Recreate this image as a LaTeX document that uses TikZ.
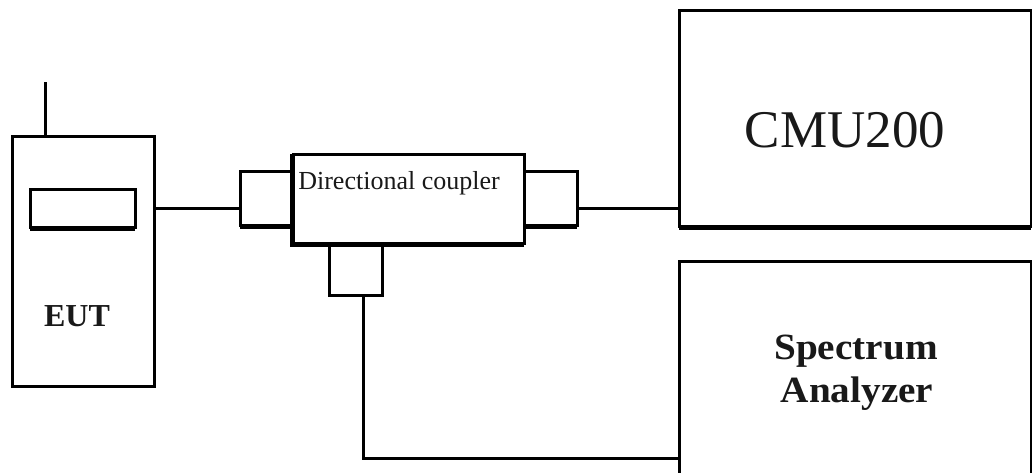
\documentclass[tikz,border=0pt]{standalone}
\usepackage{fontspec}
\setmainfont{Liberation Serif}
\begin{document}
\begin{tikzpicture}[x=1pt,y=-1pt,
  box/.style={draw=black, line width=3pt, fill=white, inner sep=0pt, outer sep=0pt},
  wire/.style={draw=black, line width=3pt},
  heavy/.style={draw=black, line width=5pt},
  lbl/.style={inner sep=0pt, outer sep=0pt, text=black!90}]
\useasboundingbox (0,0) rectangle (1032,472);
\clip (0,0) rectangle (1032,472);
% EUT
\node[box, minimum width=142pt, minimum height=250pt] (eut) at (83,261) {};
\node[box, minimum width=105pt, minimum height=38pt] (screen) at (82.5,208) {};
\draw[heavy] ([yshift=-1pt]screen.south west) -- ([yshift=-1pt]screen.south east);
\node[lbl, font=\fontsize{32}{38}\selectfont\bfseries] (eutlbl) at (77,316) {EUT};
\coordinate (ant) at (45,82);
\draw[wire] (ant) -- (ant |- eut.north);
% coupler
\node[box, minimum width=53pt, minimum height=54pt] (portL) at (266.5,198) {};
\node[box, minimum width=53pt, minimum height=54pt] (portR) at (550.5,198) {};
\node[box, minimum width=53pt, minimum height=52pt] (portB) at (355.5,269) {};
\node[box, minimum width=231pt, minimum height=89pt] (coupler) at (408.5,198.5) {};
\draw[heavy] ([yshift=-1pt]portL.south west) -- ([yshift=-1pt]portL.south east);
\draw[heavy] ([yshift=-1pt]portR.south west) -- ([yshift=-1pt]portR.south east);
\draw[heavy] ([xshift=-1pt]coupler.north west) -- ([xshift=-1pt,yshift=-1pt]coupler.south west) -- ([yshift=-1pt]coupler.south east);
\node[lbl, font=\fontsize{26}{30}\selectfont] (couplbl) at (399,183) {Directional coupler};
% instruments
\node[box, minimum width=352pt, minimum height=216pt] (cmu) at (855,118) {};
\draw[heavy] ([yshift=-1pt]cmu.south west) -- ([yshift=-1pt]cmu.south east);
\node[lbl, font=\fontsize{53}{60}\selectfont] (cmulbl) at (845,130) {CMU200};
\node[box, minimum width=352pt, minimum height=260pt] (sa) at (855,391) {};
\node[lbl, anchor=base, font=\fontsize{37}{43}\selectfont\bfseries] (salbl1) at (856,359) {\scalebox{1.06}[1]{Spectrum}};
\node[lbl, anchor=base, font=\fontsize{37}{43}\selectfont\bfseries] (salbl2) at (857,402) {\scalebox{1.06}[1]{Analyzer}};
% wires
\coordinate (rf) at (0,208);
\draw[wire] (eut.east |- rf) -- (portL.west |- rf);
\draw[wire] (portR.east |- rf) -- (cmu.west |- rf);
\coordinate (bend) at (363,458);
\draw[wire] (portB.south -| bend) -- (bend) -- (sa.west |- bend);
\end{tikzpicture}
\end{document}
